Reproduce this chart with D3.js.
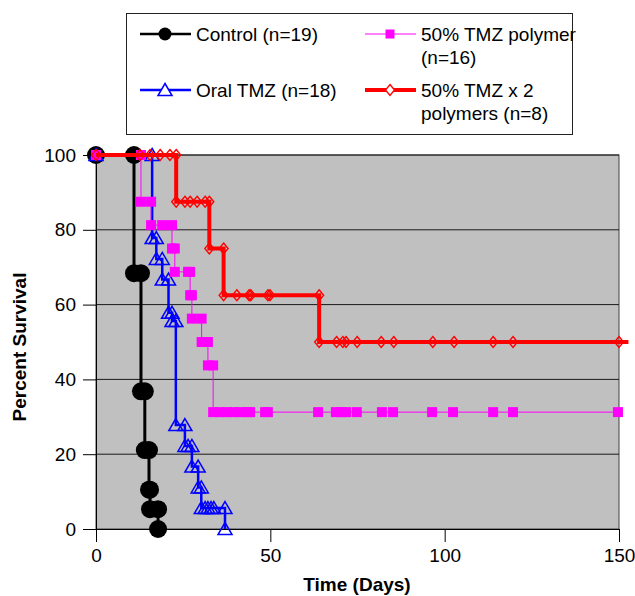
<!DOCTYPE html>
<html>
<head>
<meta charset="utf-8">
<script src="https://d3js.org/d3.v7.min.js"></script>
<style>
body { margin: 0; background: #fff; }
text { font-family: "Liberation Sans", Arial, Helvetica, sans-serif; fill: #000; }
</style>
</head>
<body>
<svg id="drawing_region" width="635" height="596"></svg>
<script>
// tick labels
const xTicks = [0, 50, 100, 150];
const yTicks = [0, 20, 40, 60, 80, 100];

// Control (n=19)
const controlDays = [0, 10.9, 10.9, 12.9, 12.9, 14, 14, 15.2, 15.2, 15.5, 15.5, 17.8, 17.8];
const controlSurv = [100, 100, 68.4, 68.4, 36.8, 36.8, 21.1, 21.1, 10.5, 10.5, 5.3, 5.3, 0];

// Oral TMZ (n=18)
const oralDays = [0, 16.1, 16.1, 17.3, 17.3, 19, 19, 20.8, 20.8, 21.8, 21.8, 22.9, 22.9, 25.5, 25.5, 26.4,
    27.5, 27.5, 29.3, 29.3, 30.2, 30.2, 31.3, 32.1, 33, 33.8, 37, 37];
const oralSurv = [100, 100, 77.8, 77.8, 72.2, 72.2, 66.7, 66.7, 57.8, 57.8, 55.6, 55.6, 27.8, 27.8, 22.2, 22.2,
    22.2, 16.7, 16.7, 11.1, 11.1, 5.6, 5.6, 5.6, 5.6, 5.6, 5.6, 0];

// 50% TMZ polymer (n=16)
const polyDays = [0, 12.9, 12.9, 15.8, 15.8, 19, 21.8, 21.8, 22.6, 22.6, 26.4, 27, 27, 27.5, 27.5, 30.3, 30.3,
    32.1, 32.1, 33.6, 33.6, 35.5, 37.5, 39.5, 41.3, 43.3, 44.2, 48.5, 49.3, 63.7, 68.8, 70.3, 71.7, 74.8,
    82, 85.2, 96.4, 102.4, 113.9, 119.6, 149.7];
const polySurv = [100, 100, 87.5, 87.5, 81.25, 81.25, 81.25, 75, 75, 68.75, 68.75, 68.75, 62.5, 62.5, 56.25, 56.25, 50,
    50, 43.75, 43.75, 31.25, 31.25, 31.25, 31.25, 31.25, 31.25, 31.25, 31.25, 31.25, 31.25, 31.25, 31.25, 31.25, 31.25,
    31.25, 31.25, 31.25, 31.25, 31.25, 31.25, 31.25];

// 50% TMZ x 2 polymers (n=8), last point has no marker
const twoDays = [0, 12.6, 15.5, 18.4, 21.2, 23, 23, 25.5, 27, 29, 31.3, 32.5, 32.5, 36.6, 36.6, 40.4, 43.9, 44.4,
    49.3, 49.9, 64, 64, 69, 70.8, 71.7, 74.9, 81.8, 85.4, 96.6, 102.7, 113.9, 119.6, 150, 152.7];
const twoSurv = [100, 100, 100, 100, 100, 100, 87.5, 87.5, 87.5, 87.5, 87.5, 87.5, 75, 75, 62.5, 62.5, 62.5, 62.5,
    62.5, 62.5, 62.5, 50, 50, 50, 50, 50, 50, 50, 50, 50, 50, 50, 50, 50];

var svg = d3.select('#drawing_region');

const x = d3.scaleLinear().domain([0, 150]).range([96, 619]);
const y = d3.scaleLinear().domain([0, 100]).range([529, 155]);

// plot area
svg.append('rect')
    .attr('x', x(0)).attr('y', y(100))
    .attr('width', x(150) - x(0)).attr('height', y(0) - y(100))
    .attr('fill', '#c0c0c0')
    .attr('stroke', '#404040');

svg.append('g').selectAll('line')
    .data(yTicks.filter(d => d > 0))
    .join('line')
    .attr('x1', x(0)).attr('x2', x(150))
    .attr('y1', d => y(d)).attr('y2', d => y(d))
    .attr('stroke', '#1a1a1a');

// axes
const yAxis = svg.append('g')
    .attr('transform', `translate(${x(0)},0)`)
    .call(d3.axisLeft(y).tickValues(yTicks).tickSize(13).tickSizeOuter(0).tickPadding(7));
const xAxis = svg.append('g')
    .attr('transform', `translate(0,${y(0)})`)
    .call(d3.axisBottom(x).tickValues(xTicks).tickSize(13).tickSizeOuter(0).tickPadding(7));

[xAxis, yAxis].forEach(a => {
    a.attr('font-family', null).attr('font-size', 19);
    a.selectAll('path, line').attr('stroke', '#000');
});

svg.append('text')
    .attr('x', 357).attr('y', 591)
    .attr('text-anchor', 'middle')
    .attr('font-size', 19).attr('font-weight', 'bold')
    .text('Time (Days)');

svg.append('text')
    .attr('transform', 'translate(26,347) rotate(-90)')
    .attr('text-anchor', 'middle')
    .attr('font-size', 19).attr('font-weight', 'bold')
    .text('Percent Survival');

// markers
const triangle = 'M0,-6.5L7,5.5L-7,5.5Z';
const diamond = 'M0,-5.5L4.5,0L0,5.5L-4.5,0Z';

function DrawMarker( g, kind ) {
    if (kind == 'circle') g.append('circle').attr('r', 9).attr('fill', '#000');
    if (kind == 'square') g.append('rect').attr('x', -5).attr('y', -5).attr('width', 10).attr('height', 10).attr('fill', '#ff00ff');
    if (kind == 'triangle') g.append('path').attr('d', triangle).attr('fill', 'none').attr('stroke', '#0000ff').attr('stroke-width', 1.5);
    if (kind == 'diamond') g.append('path').attr('d', diamond).attr('fill', 'none').attr('stroke', '#ff0000').attr('stroke-width', 1.4);
}

function DrawSeries( days, surv, color, width, kind, nMarks ) {
    const pts = days.map((d, i) => [d, surv[i]]);
    svg.append('path')
        .datum(pts)
        .attr('d', d3.line().x(d => x(d[0])).y(d => y(d[1])))
        .attr('fill', 'none')
        .attr('stroke', color)
        .attr('stroke-width', width);

    svg.append('g').selectAll('g')
        .data(pts.slice(0, nMarks))
        .join('g')
        .attr('transform', d => `translate(${x(d[0])},${y(d[1])})`)
        .each(function() { DrawMarker(d3.select(this), kind); });
}

DrawSeries(controlDays, controlSurv, '#000', 3, 'circle', controlDays.length);
DrawSeries(oralDays, oralSurv, '#0000ff', 2.5, 'triangle', oralDays.length);
DrawSeries(polyDays, polySurv, '#ff00ff', 1, 'square', polyDays.length);
DrawSeries(twoDays, twoSurv, '#ff0000', 4, 'diamond', twoDays.length - 1);

// legend
const legendLabels = [['Control (n=19)'], ['Oral TMZ (n=18)'], ['50% TMZ polymer', '(n=16)'], ['50% TMZ x 2', 'polymers (n=8)']];
const legendStyle = [
    { color: '#000', width: 2.5, kind: 'circle', lx: 140, ly: 34 },
    { color: '#0000ff', width: 2.5, kind: 'triangle', lx: 140, ly: 90 },
    { color: '#ff00ff', width: 1, kind: 'square', lx: 365, ly: 34 },
    { color: '#ff0000', width: 4, kind: 'diamond', lx: 365, ly: 90 }
];

svg.append('rect')
    .attr('x', 126.5).attr('y', 13.5)
    .attr('width', 446).attr('height', 121)
    .attr('fill', '#fff')
    .attr('stroke', '#222');

legendLabels.forEach((lines, i) => {
    const s = legendStyle[i];
    const g = svg.append('g');
    g.append('line')
        .attr('x1', s.lx).attr('x2', s.lx + 51)
        .attr('y1', s.ly).attr('y2', s.ly)
        .attr('stroke', s.color).attr('stroke-width', s.width);
    const m = g.append('g').attr('transform', `translate(${s.lx + 25},${s.ly})`);
    if (s.kind == 'circle') m.append('circle').attr('r', 6.5).attr('fill', '#000');
    else if (s.kind == 'square') m.append('rect').attr('x', -4.5).attr('y', -4.5).attr('width', 9).attr('height', 9).attr('fill', '#ff00ff');
    else if (s.kind == 'triangle') m.append('path').attr('d', triangle).attr('fill', '#fff').attr('stroke', '#0000ff').attr('stroke-width', 1.5);
    else m.append('path').attr('d', diamond).attr('fill', '#fff').attr('stroke', '#ff0000').attr('stroke-width', 1.4);

    lines.forEach((t, j) => {
        g.append('text')
            .attr('x', s.lx + 56)
            .attr('y', s.ly + 7 + j * 22.5)
            .attr('font-size', 19)
            .text(t);
    });
});
</script>
</body>
</html>
